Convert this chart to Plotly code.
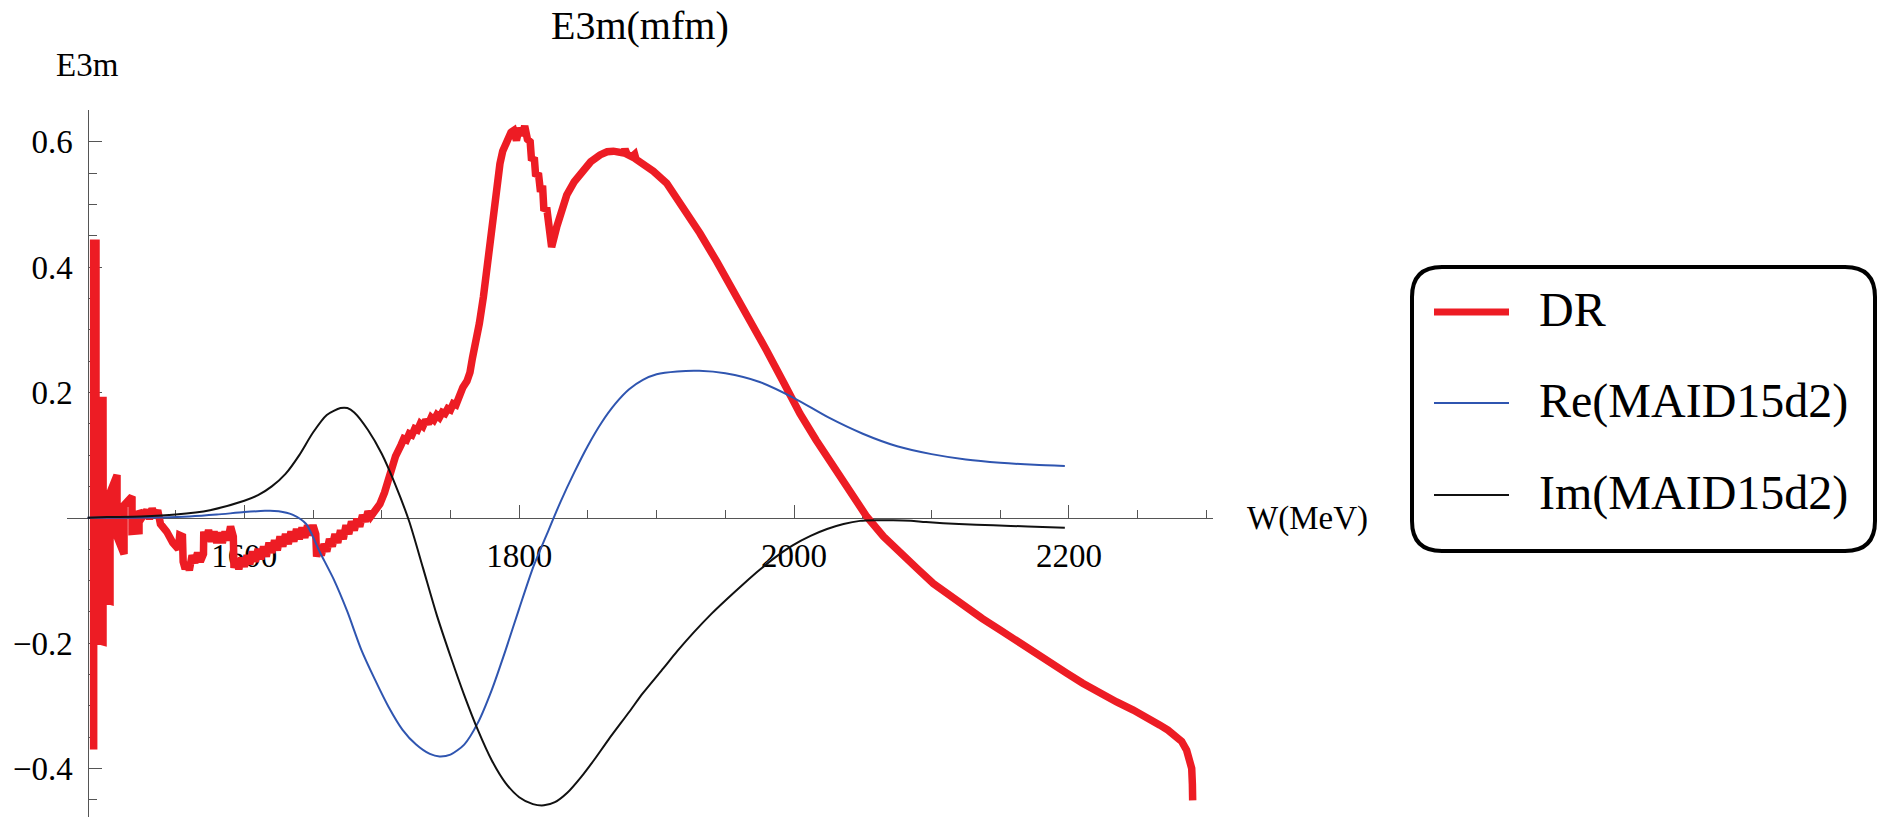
import plotly.graph_objects as go

# ---------------- data ----------------
# DR evaluation of E3m (mfm) versus W (MeV)
dr_w = [
    1490.4, 1490.4, 1492.1, 1492.1, 1497.2, 1497.2, 1497.4, 1502.3, 1502.3, 1507.4,
    1507.4, 1512.5, 1512.5, 1518.3, 1518.3, 1523.4, 1523.4, 1526, 1529, 1531,
    1533, 1535, 1537, 1539, 1543.5, 1548, 1552, 1553, 1555, 1555.5,
    1557, 1558.5, 1560, 1562, 1564, 1566, 1568, 1570.3, 1570.5, 1572,
    1574, 1576, 1578, 1580, 1582, 1584, 1586, 1588, 1590, 1592,
    1592.5, 1594, 1596, 1598, 1600, 1602, 1604, 1606, 1608, 1610,
    1612, 1614, 1616, 1618, 1620, 1622, 1624, 1626, 1628, 1630,
    1632, 1634, 1636, 1638, 1640, 1642, 1644, 1646, 1648, 1650,
    1652, 1652.6, 1654, 1656, 1658, 1660, 1662, 1664, 1666, 1668,
    1670, 1672, 1674, 1676, 1678, 1680, 1682, 1684, 1686, 1688,
    1690, 1692, 1695, 1698.7, 1702, 1706, 1710, 1714, 1716, 1718,
    1720, 1722, 1724, 1726, 1728, 1730, 1732, 1734, 1736, 1738,
    1740, 1742, 1744, 1746, 1748, 1750, 1752, 1754, 1756, 1759,
    1762, 1764.2, 1766, 1769, 1771, 1774, 1776, 1779, 1782.4, 1784,
    1786, 1788, 1791, 1794, 1796, 1798, 1800, 1802, 1804, 1806,
    1808, 1809, 1811, 1812, 1814, 1815.5, 1817, 1818, 1820, 1821,
    1823.6, 1827.3, 1831, 1834.6, 1840, 1846.7, 1852, 1858.8, 1864, 1868.5,
    1873, 1876, 1877, 1878.5, 1882, 1884, 1885, 1890, 1897.6, 1907.3,
    1919.4, 1931.5, 1943.7, 1955.8, 1967.9, 1980, 1992.1, 2004.3, 2016, 2028.5,
    2040, 2052.8, 2065, 2077, 2084, 2090, 2101.3, 2113, 2125.6, 2137,
    2149.8, 2162, 2174, 2186, 2198.3, 2210, 2222.6, 2234.7, 2246.8, 2254,
    2260, 2266.2, 2272, 2278.4, 2282, 2285.6, 2288, 2289.3, 2289.8, 2290,
]
dr_e3m = [
    -0.370, 0.438, 0.438, -0.195, -0.198, 0.193, -0.130, -0.133, 0.040, 0.068,
    -0.030, -0.058, 0.020, 0.034, -0.022, -0.021, 0.011, 0.002, 0.012, -0.002,
    0.015, 0.002, 0.012, -0.010, -0.022, -0.040, -0.050, -0.028, -0.030, -0.070,
    -0.082, -0.072, -0.084, -0.060, -0.072, -0.056, -0.070, -0.058, -0.022, -0.036,
    -0.020, -0.038, -0.022, -0.040, -0.024, -0.040, -0.022, -0.036, -0.014, -0.030,
    -0.080, -0.066, -0.082, -0.064, -0.078, -0.060, -0.074, -0.054, -0.070, -0.050,
    -0.066, -0.046, -0.062, -0.040, -0.056, -0.036, -0.052, -0.030, -0.046, -0.026,
    -0.042, -0.022, -0.038, -0.018, -0.034, -0.016, -0.032, -0.012, -0.028, -0.012,
    -0.026, -0.062, -0.048, -0.060, -0.042, -0.054, -0.034, -0.046, -0.026, -0.040,
    -0.020, -0.034, -0.012, -0.026, -0.006, -0.020, -0.002, -0.014, 0.004, -0.006,
    0.010, 0.002, 0.012, 0.022, 0.040, 0.068, 0.098, 0.116, 0.126, 0.124,
    0.134, 0.132, 0.142, 0.140, 0.150, 0.146, 0.156, 0.150, 0.160, 0.156,
    0.164, 0.160, 0.168, 0.166, 0.174, 0.172, 0.182, 0.180, 0.194, 0.208,
    0.218, 0.232, 0.255, 0.284, 0.310, 0.353, 0.390, 0.435, 0.486, 0.520,
    0.565, 0.585, 0.603, 0.615, 0.618, 0.602, 0.622, 0.610, 0.625, 0.604,
    0.600, 0.570, 0.575, 0.545, 0.550, 0.520, 0.530, 0.490, 0.495, 0.470,
    0.432, 0.464, 0.495, 0.515, 0.536, 0.555, 0.568, 0.579, 0.584, 0.585,
    0.584, 0.582, 0.588, 0.580, 0.576, 0.580, 0.572, 0.565, 0.553, 0.534,
    0.496, 0.454, 0.409, 0.363, 0.316, 0.267, 0.217, 0.166, 0.124, 0.082,
    0.042, 0.002, -0.030, -0.057, -0.070, -0.082, -0.105, -0.124, -0.142, -0.161,
    -0.179, -0.197, -0.214, -0.231, -0.248, -0.264, -0.280, -0.294, -0.307, -0.315,
    -0.323, -0.331, -0.339, -0.349, -0.357, -0.371, -0.385, -0.400, -0.425, -0.451,
]

# MAID15d2 multipole, real part
re_w = [
    1486, 1500, 1520, 1540, 1560, 1580, 1600, 1615, 1625, 1635,
    1645, 1655, 1665, 1675, 1685, 1695, 1705, 1715, 1725, 1735,
    1742, 1750, 1760, 1770, 1780, 1790, 1800, 1810, 1820, 1830,
    1840, 1850, 1860, 1870, 1880, 1890, 1900, 1915, 1931, 1950,
    1975, 2000, 2025, 2050, 2075, 2100, 2125, 2150, 2175, 2197,
]
re_e3m = [
    0.0, 0.0, 0.0, 0.0005, 0.002, 0.005, 0.009, 0.011, 0.0105, 0.005,
    -0.010, -0.055, -0.098, -0.150, -0.210, -0.258, -0.302, -0.338, -0.362, -0.377,
    -0.381, -0.378, -0.362, -0.327, -0.275, -0.212, -0.145, -0.080, -0.027, 0.025,
    0.072, 0.115, 0.152, 0.182, 0.205, 0.220, 0.229, 0.2335, 0.2345, 0.2305,
    0.2166, 0.191, 0.160, 0.134, 0.114, 0.1015, 0.093, 0.0878, 0.0845, 0.0827,
]

# MAID15d2 multipole, imaginary part
im_w = [
    1486, 1500, 1525, 1550, 1575, 1600, 1610, 1620, 1630, 1640,
    1650, 1660, 1670, 1675, 1680, 1690, 1700, 1710, 1720, 1730,
    1740, 1750, 1760, 1770, 1780, 1790, 1800, 1810, 1818, 1826,
    1835, 1845, 1855, 1865, 1880, 1890, 1905, 1915, 1927, 1940,
    1951, 1963, 1975, 1987, 1999, 2012, 2024, 2036, 2048, 2060,
    2072, 2085, 2096, 2120, 2145, 2170, 2197,
]
im_e3m = [
    0.0, 0.001, 0.002, 0.005, 0.012, 0.027, 0.036, 0.050, 0.070, 0.100,
    0.136, 0.164, 0.175, 0.175, 0.168, 0.140, 0.102, 0.052, -0.006, -0.080,
    -0.155, -0.221, -0.283, -0.339, -0.387, -0.423, -0.446, -0.457, -0.459, -0.454,
    -0.439, -0.414, -0.385, -0.354, -0.310, -0.280, -0.240, -0.213, -0.183, -0.153,
    -0.130, -0.106, -0.083, -0.062, -0.044, -0.029, -0.018, -0.010, -0.005, -0.004,
    -0.004, -0.005, -0.007, -0.010, -0.012, -0.014, -0.016,
]

x_tick_major = 200
x_tick_minor = 50
y_tick_major = 0.2
y_tick_minor = 0.05

# ---------------- layout geometry ----------------
FIG_W, FIG_H = 1881, 819
M_L, M_R, M_T, M_B = 67, 668, 110, 2
PLOT_W = FIG_W - M_L - M_R
PLOT_H = FIG_H - M_T - M_B

X_RANGE = [1471.0, 2304.8]
Y_RANGE = [-0.4776, 0.6507]
ORIGIN_W = 1486.0

FONT = "Liberation Serif, Times New Roman, serif"
RED = "#ed1c24"
BLUE = "#2f55b0"
BLACK = "#111111"
AXIS = "#555555"


def paper_x(px):
    return (px - M_L) / PLOT_W


def paper_y(py):
    return (FIG_H - M_B - py) / PLOT_H


fig = go.Figure()
fig.add_trace(go.Scatter(x=dr_w, y=dr_e3m, mode="lines", name="DR",
                         line=dict(color=RED, width=7.5), showlegend=False))
fig.add_trace(go.Scatter(x=re_w, y=re_e3m, mode="lines", name="Re(MAID15d2)",
                         line=dict(color=BLUE, width=2, shape="spline", smoothing=0.7),
                         showlegend=False))
fig.add_trace(go.Scatter(x=im_w, y=im_e3m, mode="lines", name="Im(MAID15d2)",
                         line=dict(color=BLACK, width=2, shape="spline", smoothing=0.7),
                         showlegend=False))

x_pos = (ORIGIN_W - X_RANGE[0]) / (X_RANGE[1] - X_RANGE[0])
y_pos = (0 - Y_RANGE[0]) / (Y_RANGE[1] - Y_RANGE[0])

fig.update_xaxes(
    range=X_RANGE, anchor="free", position=y_pos, showgrid=False, zeroline=False,
    showline=True, linecolor=AXIS, linewidth=1.3, layer="below traces",
    tickmode="linear", tick0=1600, dtick=x_tick_major,
    ticks="inside", ticklen=13, tickwidth=1.3, tickcolor=AXIS,
    minor=dict(ticks="inside", ticklen=8, tickwidth=1.3, tickcolor=AXIS,
               tick0=1600, dtick=x_tick_minor, showgrid=False),
    tickfont=dict(family=FONT, size=33, color="black"),
    ticklabelstandoff=9,
)
fig.update_yaxes(
    range=Y_RANGE, anchor="free", position=x_pos, showgrid=False, zeroline=False,
    showline=True, linecolor=AXIS, linewidth=1.3, layer="below traces",
    tickmode="linear", tick0=0, dtick=y_tick_major,
    ticks="inside", ticklen=13, tickwidth=1.3, tickcolor=AXIS,
    minor=dict(ticks="inside", ticklen=8, tickwidth=1.3, tickcolor=AXIS,
               tick0=0, dtick=y_tick_minor, showgrid=False),
    tickfont=dict(family=FONT, size=33, color="black"),
    labelalias={"0": ""},
    ticklabelstandoff=8,
)

annotations = [
    dict(text="E3m(mfm)", xref="paper", yref="paper", x=paper_x(640), y=paper_y(1),
         xanchor="center", yanchor="top", showarrow=False,
         font=dict(family=FONT, size=40, color="black")),
    dict(text="E3m", xref="x", yref="paper", x=ORIGIN_W, y=paper_y(65),
         xanchor="center", yanchor="middle", showarrow=False,
         font=dict(family=FONT, size=33, color="black")),
    dict(text="W(MeV)", xref="paper", yref="y", x=paper_x(1245), y=0, yshift=-1,
         xanchor="left", yanchor="middle", showarrow=False,
         font=dict(family=FONT, size=33, color="black")),
]

# legend panel with rounded frame
bx0, bx1, by0, by1 = paper_x(1412), paper_x(1875), paper_y(551), paper_y(267)
rx, ry = 30 / PLOT_W, 30 / PLOT_H
frame = (
    f"M {bx0 + rx},{by1} L {bx1 - rx},{by1} Q {bx1},{by1} {bx1},{by1 - ry} "
    f"L {bx1},{by0 + ry} Q {bx1},{by0} {bx1 - rx},{by0} "
    f"L {bx0 + rx},{by0} Q {bx0},{by0} {bx0},{by0 + ry} "
    f"L {bx0},{by1 - ry} Q {bx0},{by1} {bx0 + rx},{by1} Z"
)
shapes = [dict(type="path", path=frame, xref="paper", yref="paper",
               line=dict(color="black", width=4), fillcolor="white", layer="above")]

legend_rows = [("DR", RED, 7, 312), ("Re(MAID15d2)", BLUE, 2, 403), ("Im(MAID15d2)", BLACK, 2, 495)]
for label, color, width, py in legend_rows:
    shapes.append(dict(type="line", xref="paper", yref="paper",
                       x0=paper_x(1434), x1=paper_x(1509), y0=paper_y(py), y1=paper_y(py),
                       line=dict(color=color, width=width), layer="above"))
    annotations.append(dict(text=label, xref="paper", yref="paper",
                            x=paper_x(1537), y=paper_y(py - 2.5),
                            xanchor="left", yanchor="middle", showarrow=False,
                            font=dict(family=FONT, size=48, color="black")))

fig.update_layout(
    width=FIG_W, height=FIG_H,
    margin=dict(l=M_L, r=M_R, t=M_T, b=M_B, pad=0),
    paper_bgcolor="white", plot_bgcolor="white",
    showlegend=False,
    annotations=annotations, shapes=shapes,
)

fig.write_html("out.html")
